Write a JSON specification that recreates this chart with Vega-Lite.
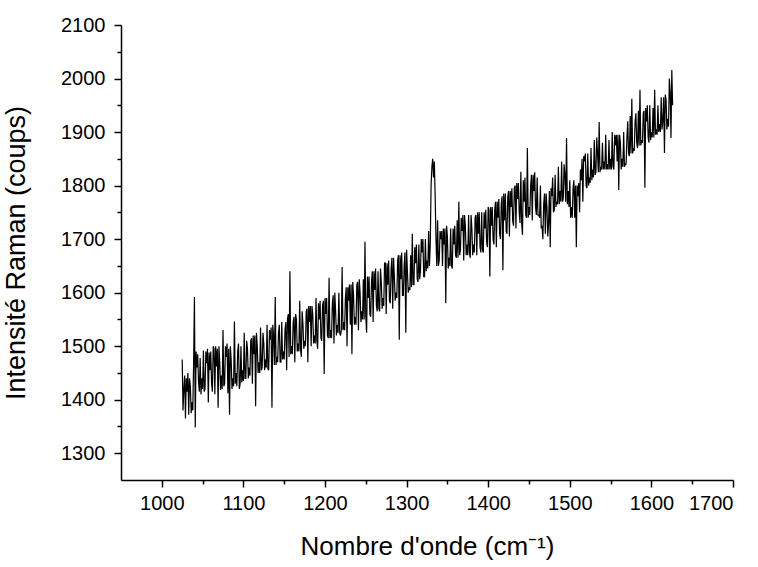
{
  "$schema": "https://vega.github.io/schema/vega-lite/v6.json",
  "width": 612,
  "height": 455,
  "autosize": {"type": "none"},
  "padding": {"left": 121, "top": 25, "right": 25, "bottom": 87},
  "background": "white",
  "config": {
    "view": {"stroke": null},
    "font": "Liberation Sans",
    "axis": {"grid": false, "domainColor": "black", "tickColor": "black", "labelColor": "black", "titleColor": "black", "domainWidth": 1.5, "tickWidth": 1.5, "labelFont": "Liberation Sans", "titleFont": "Liberation Sans", "labelFontSize": 20, "titleFontSize": 26, "titleFontWeight": "normal"}
  },
  "data": {"values": [
    {"w":1025,"i":1475},{"w":1027,"i":1420},{"w":1029,"i":1365},{"w":1031,"i":1415},{"w":1033,"i":1372},{"w":1035,"i":1425},{"w":1037,"i":1395},{"w":1039,"i":1470},{"w":1040,"i":1592},{"w":1041,"i":1348},
    {"w":1043,"i":1460},{"w":1045,"i":1435},{"w":1047,"i":1478},{"w":1049,"i":1440},{"w":1051,"i":1492},{"w":1053,"i":1420},{"w":1055,"i":1468},{"w":1057,"i":1395},{"w":1059,"i":1455},{"w":1061,"i":1430},
    {"w":1063,"i":1500},{"w":1065,"i":1410},{"w":1067,"i":1462},{"w":1069,"i":1385},{"w":1071,"i":1470},{"w":1073,"i":1445},{"w":1075,"i":1530},{"w":1077,"i":1430},{"w":1079,"i":1480},{"w":1081,"i":1412},
    {"w":1083,"i":1372},{"w":1085,"i":1475},{"w":1087,"i":1440},{"w":1089,"i":1546},{"w":1091,"i":1450},{"w":1093,"i":1490},{"w":1095,"i":1420},{"w":1097,"i":1500},{"w":1099,"i":1455},{"w":1101,"i":1525},
    {"w":1103,"i":1440},{"w":1105,"i":1495},{"w":1107,"i":1460},{"w":1109,"i":1510},{"w":1111,"i":1430},{"w":1113,"i":1485},{"w":1115,"i":1388},{"w":1117,"i":1500},{"w":1119,"i":1470},{"w":1121,"i":1535},
    {"w":1123,"i":1460},{"w":1125,"i":1505},{"w":1127,"i":1475},{"w":1129,"i":1540},{"w":1131,"i":1455},{"w":1133,"i":1512},{"w":1135,"i":1385},{"w":1137,"i":1520},{"w":1139,"i":1592},{"w":1141,"i":1480},
    {"w":1143,"i":1525},{"w":1145,"i":1470},{"w":1147,"i":1545},{"w":1149,"i":1490},{"w":1151,"i":1530},{"w":1153,"i":1455},{"w":1155,"i":1560},{"w":1157,"i":1640},{"w":1159,"i":1500},{"w":1161,"i":1545},
    {"w":1163,"i":1470},{"w":1165,"i":1550},{"w":1167,"i":1505},{"w":1169,"i":1585},{"w":1171,"i":1480},{"w":1173,"i":1540},{"w":1175,"i":1510},{"w":1177,"i":1565},{"w":1179,"i":1470},{"w":1181,"i":1545},
    {"w":1183,"i":1500},{"w":1185,"i":1560},{"w":1187,"i":1520},{"w":1189,"i":1590},{"w":1191,"i":1495},{"w":1193,"i":1550},{"w":1195,"i":1515},{"w":1197,"i":1575},{"w":1199,"i":1448},{"w":1201,"i":1560},
    {"w":1203,"i":1520},{"w":1205,"i":1628},{"w":1207,"i":1530},{"w":1209,"i":1580},{"w":1211,"i":1505},{"w":1213,"i":1565},{"w":1215,"i":1540},{"w":1217,"i":1600},{"w":1219,"i":1520},{"w":1221,"i":1648},
    {"w":1223,"i":1545},{"w":1225,"i":1590},{"w":1227,"i":1500},{"w":1229,"i":1585},{"w":1231,"i":1540},{"w":1233,"i":1485},{"w":1235,"i":1595},{"w":1237,"i":1555},{"w":1239,"i":1615},{"w":1241,"i":1530},
    {"w":1243,"i":1600},{"w":1245,"i":1565},{"w":1247,"i":1625},{"w":1249,"i":1695},{"w":1251,"i":1525},{"w":1253,"i":1590},{"w":1255,"i":1560},{"w":1257,"i":1620},{"w":1259,"i":1545},{"w":1261,"i":1605},
    {"w":1263,"i":1575},{"w":1265,"i":1640},{"w":1267,"i":1565},{"w":1269,"i":1620},{"w":1271,"i":1590},{"w":1273,"i":1655},{"w":1275,"i":1560},{"w":1277,"i":1615},{"w":1279,"i":1585},{"w":1281,"i":1645},
    {"w":1283,"i":1570},{"w":1285,"i":1630},{"w":1287,"i":1600},{"w":1289,"i":1660},{"w":1291,"i":1512},{"w":1293,"i":1625},{"w":1295,"i":1595},{"w":1297,"i":1650},{"w":1299,"i":1525},{"w":1301,"i":1640},
    {"w":1303,"i":1610},{"w":1305,"i":1670},{"w":1307,"i":1710},{"w":1309,"i":1615},{"w":1311,"i":1655},{"w":1313,"i":1625},{"w":1315,"i":1690},{"w":1317,"i":1640},{"w":1319,"i":1675},{"w":1321,"i":1630},
    {"w":1323,"i":1700},{"w":1325,"i":1660},{"w":1327,"i":1715},{"w":1329,"i":1690},{"w":1330,"i":1800},{"w":1331,"i":1835},{"w":1332,"i":1850},{"w":1333,"i":1815},{"w":1334,"i":1845},{"w":1335,"i":1780},
    {"w":1336,"i":1700},{"w":1338,"i":1735},{"w":1340,"i":1660},{"w":1342,"i":1700},{"w":1344,"i":1650},{"w":1346,"i":1690},{"w":1348,"i":1580},{"w":1350,"i":1705},{"w":1352,"i":1665},{"w":1354,"i":1720},
    {"w":1356,"i":1645},{"w":1358,"i":1690},{"w":1360,"i":1670},{"w":1362,"i":1735},{"w":1364,"i":1770},{"w":1366,"i":1680},{"w":1368,"i":1715},{"w":1370,"i":1660},{"w":1372,"i":1725},{"w":1374,"i":1690},
    {"w":1376,"i":1745},{"w":1378,"i":1665},{"w":1380,"i":1720},{"w":1382,"i":1690},{"w":1384,"i":1740},{"w":1386,"i":1670},{"w":1388,"i":1710},{"w":1390,"i":1685},{"w":1392,"i":1750},{"w":1394,"i":1675},
    {"w":1396,"i":1720},{"w":1398,"i":1695},{"w":1400,"i":1760},{"w":1402,"i":1630},{"w":1404,"i":1725},{"w":1406,"i":1700},{"w":1408,"i":1755},{"w":1410,"i":1685},{"w":1412,"i":1740},{"w":1414,"i":1710},
    {"w":1416,"i":1765},{"w":1418,"i":1642},{"w":1420,"i":1735},{"w":1422,"i":1715},{"w":1424,"i":1780},{"w":1426,"i":1705},{"w":1428,"i":1760},{"w":1430,"i":1735},{"w":1432,"i":1795},{"w":1434,"i":1720},
    {"w":1436,"i":1775},{"w":1438,"i":1750},{"w":1440,"i":1826},{"w":1442,"i":1708},{"w":1444,"i":1770},{"w":1446,"i":1745},{"w":1448,"i":1870},{"w":1450,"i":1760},{"w":1452,"i":1800},{"w":1454,"i":1735},
    {"w":1456,"i":1790},{"w":1458,"i":1760},{"w":1460,"i":1815},{"w":1462,"i":1745},{"w":1464,"i":1800},{"w":1466,"i":1725},{"w":1468,"i":1765},{"w":1470,"i":1710},{"w":1472,"i":1760},{"w":1474,"i":1730},
    {"w":1476,"i":1685},{"w":1478,"i":1780},{"w":1480,"i":1750},{"w":1482,"i":1820},{"w":1484,"i":1770},{"w":1486,"i":1835},{"w":1488,"i":1790},{"w":1490,"i":1845},{"w":1492,"i":1775},{"w":1494,"i":1820},
    {"w":1496,"i":1889},{"w":1498,"i":1790},{"w":1500,"i":1810},{"w":1502,"i":1760},{"w":1504,"i":1795},{"w":1506,"i":1740},{"w":1508,"i":1685},{"w":1510,"i":1780},{"w":1512,"i":1750},{"w":1514,"i":1810},
    {"w":1516,"i":1770},{"w":1518,"i":1845},{"w":1520,"i":1800},{"w":1522,"i":1860},{"w":1524,"i":1815},{"w":1526,"i":1870},{"w":1528,"i":1830},{"w":1530,"i":1885},{"w":1532,"i":1825},{"w":1534,"i":1860},
    {"w":1536,"i":1919},{"w":1538,"i":1835},{"w":1540,"i":1880},{"w":1542,"i":1845},{"w":1544,"i":1895},{"w":1546,"i":1840},{"w":1548,"i":1885},{"w":1550,"i":1850},{"w":1552,"i":1900},{"w":1554,"i":1830},
    {"w":1556,"i":1875},{"w":1558,"i":1845},{"w":1560,"i":1792},{"w":1562,"i":1880},{"w":1564,"i":1850},{"w":1566,"i":1900},{"w":1568,"i":1840},{"w":1570,"i":1890},{"w":1572,"i":1860},{"w":1574,"i":1930},
    {"w":1576,"i":1962},{"w":1578,"i":1870},{"w":1580,"i":1920},{"w":1582,"i":1880},{"w":1584,"i":1940},{"w":1586,"i":1979},{"w":1588,"i":1885},{"w":1590,"i":1935},{"w":1592,"i":1796},{"w":1594,"i":1920},
    {"w":1596,"i":1890},{"w":1598,"i":1950},{"w":1600,"i":1900},{"w":1602,"i":1945},{"w":1604,"i":1979},{"w":1606,"i":1905},{"w":1608,"i":1950},{"w":1610,"i":1915},{"w":1612,"i":1965},{"w":1614,"i":1920},
    {"w":1616,"i":1861},{"w":1618,"i":1960},{"w":1620,"i":1925},{"w":1622,"i":2000},{"w":1624,"i":1889},{"w":1625,"i":2016},{"w":1626,"i":1950},
    {"w":1026,"i":1380},{"w":1028,"i":1445},{"w":1030,"i":1440},{"w":1032,"i":1450},{"w":1034,"i":1440},{"w":1036,"i":1375},{"w":1038,"i":1380},{"w":1042,"i":1490},{"w":1044,"i":1485},{"w":1046,"i":1415},
    {"w":1048,"i":1410},{"w":1050,"i":1420},{"w":1052,"i":1415},{"w":1054,"i":1490},{"w":1056,"i":1495},{"w":1058,"i":1488},{"w":1060,"i":1490},{"w":1062,"i":1415},{"w":1064,"i":1495},{"w":1066,"i":1500},
    {"w":1068,"i":1495},{"w":1070,"i":1500},{"w":1072,"i":1418},{"w":1074,"i":1420},{"w":1076,"i":1425},{"w":1078,"i":1500},{"w":1080,"i":1505},{"w":1082,"i":1495},{"w":1084,"i":1500},{"w":1086,"i":1420},
    {"w":1088,"i":1425},{"w":1090,"i":1430},{"w":1092,"i":1425},{"w":1094,"i":1505},{"w":1096,"i":1430},{"w":1098,"i":1432},{"w":1100,"i":1435},{"w":1102,"i":1440},{"w":1104,"i":1510},{"w":1106,"i":1440},
    {"w":1108,"i":1445},{"w":1110,"i":1515},{"w":1112,"i":1520},{"w":1114,"i":1520},{"w":1116,"i":1525},{"w":1118,"i":1450},{"w":1120,"i":1450},{"w":1122,"i":1455},{"w":1124,"i":1525},{"w":1126,"i":1455},
    {"w":1128,"i":1460},{"w":1130,"i":1458},{"w":1132,"i":1530},{"w":1134,"i":1535},{"w":1136,"i":1540},{"w":1138,"i":1465},{"w":1140,"i":1465},{"w":1142,"i":1470},{"w":1144,"i":1540},{"w":1146,"i":1470},
    {"w":1148,"i":1475},{"w":1150,"i":1475},{"w":1152,"i":1545},{"w":1154,"i":1550},{"w":1156,"i":1480},{"w":1158,"i":1485},{"w":1160,"i":1485},{"w":1162,"i":1555},{"w":1164,"i":1560},{"w":1166,"i":1490},
    {"w":1168,"i":1490},{"w":1170,"i":1495},{"w":1172,"i":1565},{"w":1174,"i":1495},{"w":1176,"i":1500},{"w":1178,"i":1570},{"w":1180,"i":1575},{"w":1182,"i":1575},{"w":1184,"i":1575},{"w":1186,"i":1505},
    {"w":1188,"i":1505},{"w":1190,"i":1510},{"w":1192,"i":1580},{"w":1194,"i":1585},{"w":1196,"i":1510},{"w":1198,"i":1585},{"w":1200,"i":1590},{"w":1202,"i":1590},{"w":1204,"i":1515},{"w":1206,"i":1515},
    {"w":1208,"i":1515},{"w":1210,"i":1595},{"w":1212,"i":1600},{"w":1214,"i":1520},{"w":1216,"i":1525},{"w":1218,"i":1525},{"w":1220,"i":1530},{"w":1222,"i":1530},{"w":1224,"i":1530},{"w":1226,"i":1610},
    {"w":1228,"i":1610},{"w":1230,"i":1615},{"w":1232,"i":1615},{"w":1234,"i":1620},{"w":1236,"i":1540},{"w":1238,"i":1540},{"w":1240,"i":1620},{"w":1242,"i":1625},{"w":1244,"i":1545},{"w":1246,"i":1550},
    {"w":1248,"i":1550},{"w":1250,"i":1555},{"w":1252,"i":1630},{"w":1254,"i":1630},{"w":1256,"i":1555},{"w":1258,"i":1640},{"w":1260,"i":1640},{"w":1262,"i":1645},{"w":1264,"i":1565},{"w":1266,"i":1570},
    {"w":1268,"i":1645},{"w":1270,"i":1570},{"w":1272,"i":1575},{"w":1274,"i":1655},{"w":1276,"i":1655},{"w":1278,"i":1660},{"w":1280,"i":1580},{"w":1282,"i":1665},{"w":1284,"i":1665},{"w":1286,"i":1585},
    {"w":1288,"i":1590},{"w":1290,"i":1670},{"w":1292,"i":1670},{"w":1294,"i":1675},{"w":1296,"i":1595},{"w":1298,"i":1675},{"w":1300,"i":1680},{"w":1302,"i":1600},{"w":1304,"i":1605},{"w":1306,"i":1610},
    {"w":1308,"i":1615},{"w":1310,"i":1685},{"w":1312,"i":1690},{"w":1314,"i":1620},{"w":1316,"i":1625},{"w":1318,"i":1700},{"w":1320,"i":1700},{"w":1322,"i":1630},{"w":1324,"i":1640},{"w":1326,"i":1645},
    {"w":1328,"i":1650},
    {"w":1337,"i":1650},{"w":1339,"i":1650},{"w":1341,"i":1715},{"w":1343,"i":1715},{"w":1345,"i":1720},{"w":1347,"i":1720},{"w":1349,"i":1725},{"w":1351,"i":1645},{"w":1353,"i":1650},{"w":1355,"i":1650},
    {"w":1357,"i":1720},{"w":1359,"i":1725},{"w":1361,"i":1665},{"w":1363,"i":1665},{"w":1365,"i":1670},{"w":1367,"i":1740},{"w":1369,"i":1745},{"w":1371,"i":1745},{"w":1373,"i":1670},{"w":1375,"i":1670},
    {"w":1377,"i":1675},{"w":1379,"i":1745},{"w":1381,"i":1670},{"w":1383,"i":1675},{"w":1385,"i":1745},{"w":1387,"i":1750},{"w":1389,"i":1750},{"w":1391,"i":1675},{"w":1393,"i":1680},{"w":1395,"i":1750},
    {"w":1397,"i":1755},{"w":1399,"i":1685},{"w":1401,"i":1755},{"w":1403,"i":1760},{"w":1405,"i":1760},{"w":1407,"i":1690},{"w":1409,"i":1770},{"w":1411,"i":1770},{"w":1413,"i":1775},{"w":1415,"i":1700},
    {"w":1417,"i":1780},{"w":1419,"i":1785},{"w":1421,"i":1785},{"w":1423,"i":1710},{"w":1425,"i":1790},{"w":1427,"i":1790},{"w":1429,"i":1795},{"w":1431,"i":1725},{"w":1433,"i":1800},{"w":1435,"i":1805},
    {"w":1437,"i":1805},{"w":1439,"i":1730},{"w":1441,"i":1730},{"w":1443,"i":1810},{"w":1445,"i":1815},{"w":1447,"i":1740},{"w":1449,"i":1740},{"w":1451,"i":1745},{"w":1453,"i":1820},{"w":1455,"i":1820},
    {"w":1457,"i":1825},{"w":1459,"i":1745},{"w":1461,"i":1745},{"w":1463,"i":1740},{"w":1465,"i":1720},{"w":1467,"i":1700},{"w":1469,"i":1785},{"w":1471,"i":1785},{"w":1473,"i":1705},{"w":1475,"i":1790},
    {"w":1477,"i":1795},{"w":1479,"i":1815},{"w":1481,"i":1755},{"w":1483,"i":1760},{"w":1485,"i":1765},{"w":1487,"i":1765},{"w":1489,"i":1770},{"w":1491,"i":1770},{"w":1493,"i":1840},{"w":1495,"i":1770},
    {"w":1497,"i":1765},{"w":1499,"i":1760},{"w":1501,"i":1740},{"w":1503,"i":1740},{"w":1505,"i":1810},{"w":1507,"i":1800},{"w":1509,"i":1800},{"w":1511,"i":1805},{"w":1513,"i":1830},{"w":1515,"i":1850},
    {"w":1517,"i":1855},{"w":1519,"i":1860},{"w":1521,"i":1795},{"w":1523,"i":1800},{"w":1525,"i":1805},{"w":1527,"i":1810},{"w":1529,"i":1815},{"w":1531,"i":1820},{"w":1533,"i":1890},{"w":1535,"i":1825},
    {"w":1537,"i":1825},{"w":1539,"i":1830},{"w":1541,"i":1830},{"w":1543,"i":1830},{"w":1545,"i":1830},{"w":1547,"i":1830},{"w":1549,"i":1830},{"w":1551,"i":1830},{"w":1553,"i":1835},{"w":1555,"i":1895},
    {"w":1557,"i":1895},{"w":1559,"i":1895},{"w":1561,"i":1895},{"w":1563,"i":1830},{"w":1565,"i":1835},{"w":1567,"i":1835},{"w":1569,"i":1840},{"w":1571,"i":1920},{"w":1573,"i":1855},{"w":1575,"i":1860},
    {"w":1577,"i":1860},{"w":1579,"i":1865},{"w":1581,"i":1935},{"w":1583,"i":1870},{"w":1585,"i":1875},{"w":1587,"i":1875},{"w":1589,"i":1880},{"w":1591,"i":1940},{"w":1593,"i":1945},{"w":1595,"i":1950},
    {"w":1597,"i":1880},{"w":1599,"i":1885},{"w":1601,"i":1890},{"w":1603,"i":1890},{"w":1605,"i":1895},{"w":1607,"i":1895},{"w":1609,"i":1900},{"w":1611,"i":1900},{"w":1613,"i":1905},{"w":1615,"i":1965},
    {"w":1617,"i":1970},{"w":1619,"i":1905},{"w":1621,"i":1910},{"w":1623,"i":1975}
  ]},
  "layer": [
    {
      "mark": {"type": "line", "color": "black", "strokeWidth": 1.2, "clip": true},
      "encoding": {
        "x": {"field": "w", "type": "quantitative", "sort": "ascending", "scale": {"domain": [950, 1700], "nice": false, "zero": false},
          "axis": {"orient": "bottom", "values": [1000, 1100, 1200, 1300, 1400, 1500, 1600, 1700], "format": "d", "tickSize": 7, "labelPadding": 6, "title": "Nombre d'onde (cm⁻¹)", "titlePadding": 20}},
        "y": {"field": "i", "type": "quantitative", "scale": {"domain": [1250, 2100], "nice": false, "zero": false},
          "axis": {"orient": "left", "values": [1300, 1400, 1500, 1600, 1700, 1800, 1900, 2000, 2100], "format": "d", "tickSize": 7, "labelPadding": 9, "title": "Intensité Raman (coups)", "titleFontSize": 27, "titlePadding": 30}}
      }
    },
    {
      "mark": {"type": "point", "opacity": 0},
      "encoding": {
        "x": {"field": "w", "type": "quantitative", "axis": {"orient": "bottom", "values": [1050, 1150, 1250, 1350, 1450, 1550, 1650], "tickSize": 4, "labels": false, "domain": false, "title": null}},
        "y": {"field": "i", "type": "quantitative", "axis": {"orient": "left", "values": [1350, 1450, 1550, 1650, 1750, 1850, 1950, 2050], "tickSize": 4, "labels": false, "domain": false, "title": null}}
      }
    }
  ],
  "resolve": {"axis": {"x": "independent", "y": "independent"}}
}
